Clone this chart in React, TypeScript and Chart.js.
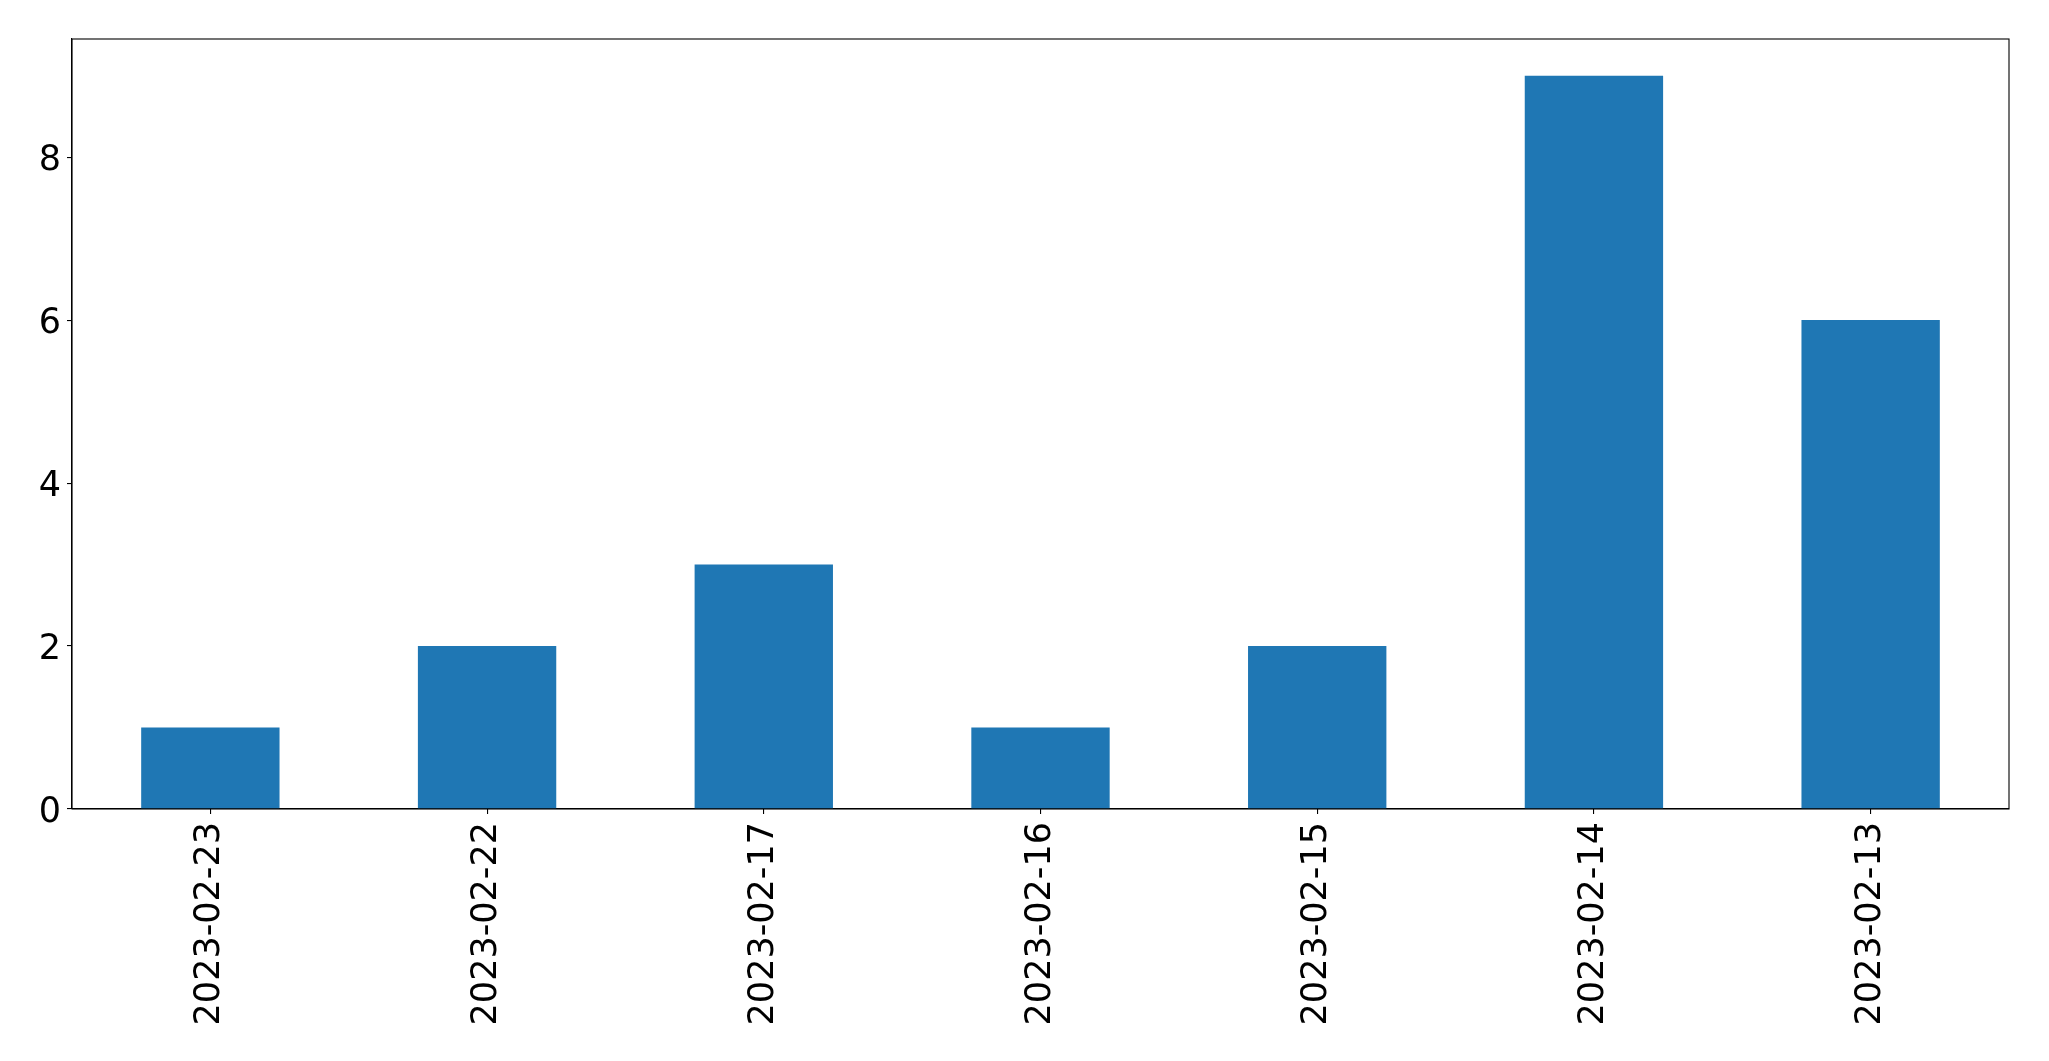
import React, { useEffect, useRef } from "react";
import { Chart, registerables } from "chart.js";

Chart.register(...registerables);

const categories = ["2023-02-23", "2023-02-22", "2023-02-17", "2023-02-16", "2023-02-15", "2023-02-14", "2023-02-13"];
const counts = [1, 2, 3, 1, 2, 9, 6];
const yTicks = [0, 2, 4, 6, 8];

const W = 2049;
const H = 1061;
const LEFT = 72;
const TOP = 39;
const RIGHT = 2009;
const BOTTOM = 809;
const FONT = { family: "DejaVu Sans", size: 35 };

const framePlugin = {
  id: "frame",
  afterDraw(chart: any) {
    const { ctx, chartArea } = chart;
    ctx.save();
    ctx.strokeStyle = "#000";
    ctx.lineWidth = 1.1;
    ctx.strokeRect(chartArea.left, chartArea.top, chartArea.right - chartArea.left, chartArea.bottom - chartArea.top);
    ctx.restore();
  },
};

export default function App() {
  const ref = useRef<HTMLCanvasElement>(null);
  useEffect(() => {
    document.body.style.margin = "0";
    const chart = new Chart(ref.current!, {
      type: "bar",
      data: {
        labels: categories,
        datasets: [
          {
            data: counts,
            backgroundColor: "#1f77b4",
            borderWidth: 0,
            categoryPercentage: 1,
            barPercentage: 0.5,
          },
        ],
      },
      options: {
        animation: false,
        responsive: false,
        maintainAspectRatio: false,
        layout: { padding: { left: 0, top: TOP, right: W - RIGHT, bottom: 0 } },
        plugins: { legend: { display: false }, tooltip: { enabled: false } },
        scales: {
          x: {
            type: "category",
            offset: true,
            grid: { offset: false, drawOnChartArea: false, drawTicks: true, tickLength: 5, color: "#000", lineWidth: 1.1 },
            border: { display: true, color: "#000", width: 1.1 },
            ticks: {
              color: "#000",
              font: FONT,
              minRotation: 90,
              maxRotation: 90,
              autoSkip: false,
              padding: 8,
            },
            afterFit(scale: any) {
              scale.height = H - BOTTOM;
            },
          },
          y: {
            min: 0,
            max: 9.45,
            afterBuildTicks(scale: any) {
              scale.ticks = yTicks.map((v) => ({ value: v }));
            },
            grid: { drawOnChartArea: false, drawTicks: true, tickLength: 5, color: "#000", lineWidth: 1.1 },
            border: { display: true, color: "#000", width: 1.1 },
            ticks: {
              color: "#000",
              font: FONT,
              padding: 6,
              labelOffset: 4,
            },
            afterFit(scale: any) {
              scale.width = LEFT;
            },
          },
        },
      },
      plugins: [framePlugin],
    });
    return () => chart.destroy();
  }, []);
  return (
    <div style={{ position: "absolute", left: 0, top: 0, width: W, height: H, background: "#fff" }}>
      <canvas ref={ref} width={W} height={H} style={{ width: W, height: H, display: "block" }} />
    </div>
  );
}
